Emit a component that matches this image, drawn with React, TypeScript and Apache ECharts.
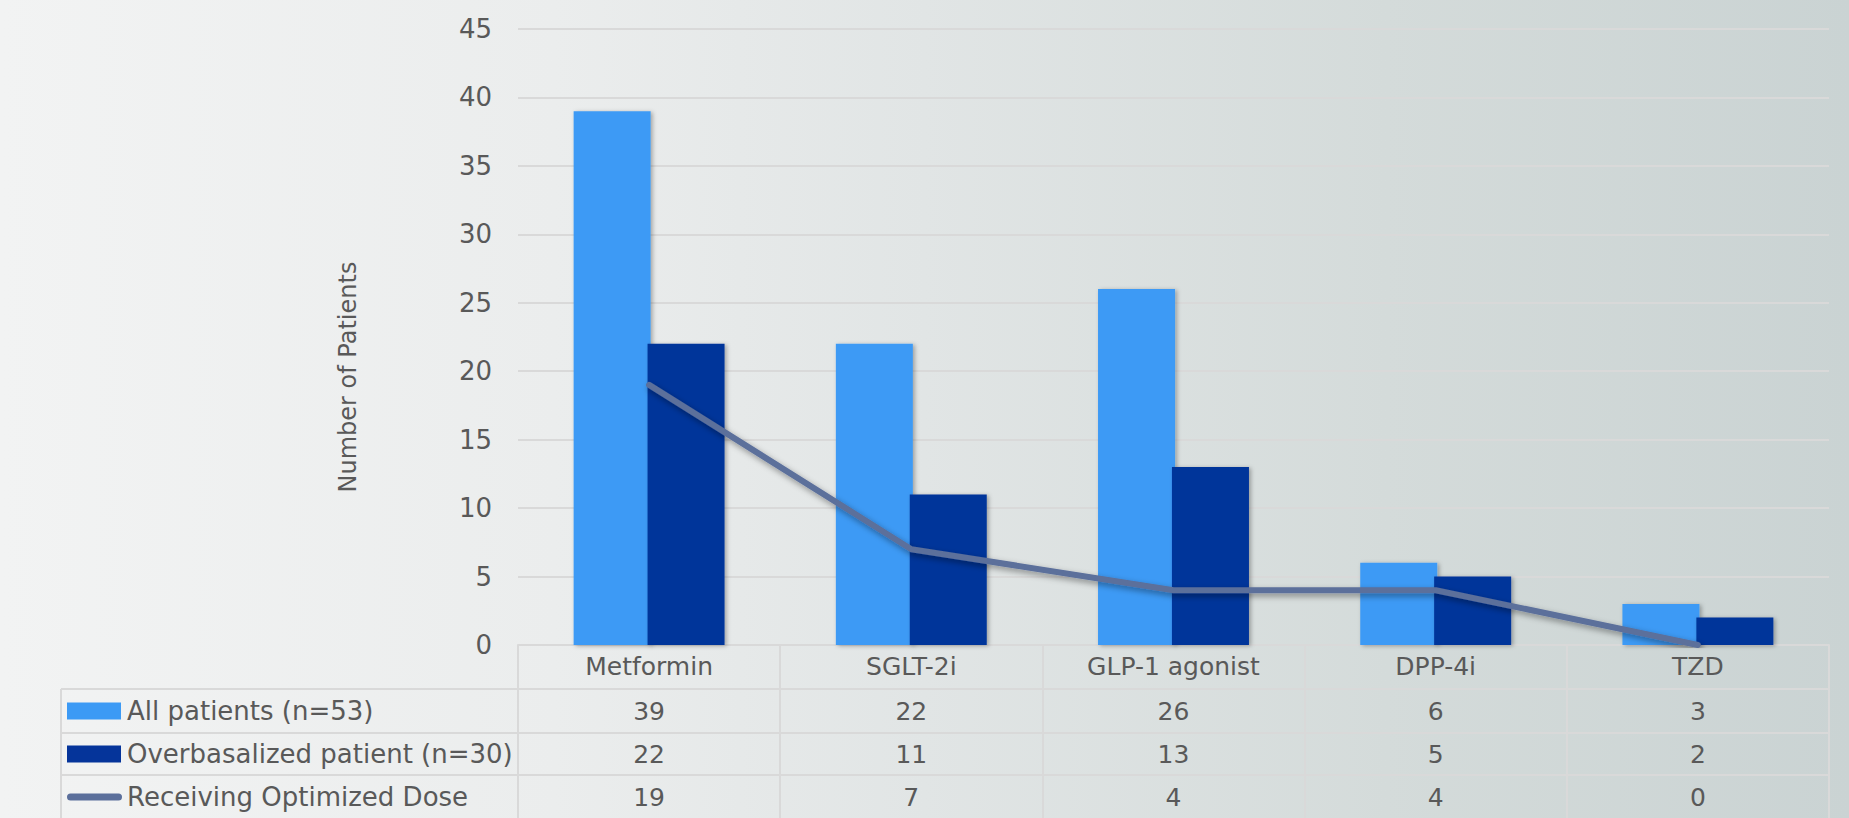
import React, { useEffect, useRef } from "react";
import * as echarts from "echarts";

const categories = ["Metformin", "SGLT-2i", "GLP-1 agonist", "DPP-4i", "TZD"];
const seriesNames = ["All patients (n=53)", "Overbasalized patient (n=30)", "Receiving Optimized Dose"];
const allPatients = [39, 22, 26, 6, 3];
const overbasalized = [22, 11, 13, 5, 2];
const optimizedDose = [19, 7, 4, 4, 0];
const yTicks = { min: 0, max: 45, interval: 5 };
const yAxisName = "Number of Patients";

const W = 1849;
const H = 818;
const FONT = "'DejaVu Sans', 'Open Sans', sans-serif";
const TEXT = "#595959";
const GRID_LINE = "#D9D9D9";
const LIGHT = "#3C9AF5";
const DARK = "#05349A";
const LINE = "#5B6F9B";

const GRID = { left: 518, right: 20, top: 29, bottom: 173 };
const ROW_CENTERS = [711, 754, 797];
const ROW_LINES = [689, 733, 775];
const TABLE_LEFT = 61;

export default function App() {
  const ref = useRef<HTMLDivElement>(null);
  useEffect(() => {
    if (!ref.current) return;
    const chart = echarts.init(ref.current, null, { renderer: "svg" });
    const rows = [allPatients, overbasalized, optimizedDose];
    const valueAxes = rows.map((arr, r) => ({
      type: "category" as const,
      gridIndex: 0,
      position: "bottom" as const,
      offset: ROW_CENTERS[r] - (H - GRID.bottom),
      data: categories,
      axisLine: { show: false },
      axisTick: { show: false },
      splitLine: { show: false },
      axisLabel: {
        margin: 0,
        verticalAlign: "middle" as const,
        fontSize: 25,
        fontFamily: FONT,
        color: TEXT,
        formatter: (_v: string, i: number) => String(arr[i]),
      },
    }));

    const graphics: any[] = [];
    ROW_LINES.forEach((y) => {
      graphics.push({
        type: "line",
        shape: { x1: TABLE_LEFT, y1: y, x2: W - GRID.right, y2: y },
        style: { stroke: GRID_LINE, lineWidth: 2 },
        silent: true,
      });
    });
    graphics.push({
      type: "line",
      shape: { x1: TABLE_LEFT, y1: ROW_LINES[0], x2: TABLE_LEFT, y2: H },
      style: { stroke: GRID_LINE, lineWidth: 2 },
      silent: true,
    });
    const iconColors = [LIGHT, DARK, LINE];
    seriesNames.forEach((name, i) => {
      const cy = ROW_CENTERS[i];
      if (i < 2) {
        graphics.push({
          type: "rect",
          shape: { x: 67, y: cy - 8.5, width: 54, height: 17 },
          style: { fill: iconColors[i] },
          silent: true,
        });
      } else {
        graphics.push({
          type: "rect",
          shape: { x: 67, y: cy - 3.5, width: 55, height: 7, r: 3.5 },
          style: { fill: iconColors[i] },
          silent: true,
        });
      }
      graphics.push({
        type: "text",
        x: 127,
        y: cy,
        style: {
          text: name,
          fontSize: 26,
          fontFamily: FONT,
          fill: TEXT,
          align: "left",
          verticalAlign: "middle",
        },
        silent: true,
      });
    });
    graphics.push({
      type: "text",
      x: 348,
      y: 377,
      rotation: Math.PI / 2,
      style: {
        text: yAxisName,
        fontSize: 24,
        fontFamily: FONT,
        fill: TEXT,
        align: "center",
        verticalAlign: "middle",
      },
      silent: true,
    });

    const shadow = {
      shadowColor: "rgba(0,0,0,0.3)",
      shadowBlur: 4,
      shadowOffsetX: 2,
      shadowOffsetY: 1,
    };

    chart.setOption({
      animation: false,
      backgroundColor: {
        type: "linear",
        x: 0,
        y: 0,
        x2: 1,
        y2: 0,
        colorStops: [
          { offset: 0, color: "#F2F3F3" },
          { offset: 0.3, color: "#EBEDED" },
          { offset: 0.5, color: "#E1E5E5" },
          { offset: 0.75, color: "#D4DBDA" },
          { offset: 1, color: "#CAD3D3" },
        ],
      },
      grid: { ...GRID, containLabel: false },
      xAxis: [
        {
          type: "category",
          data: categories,
          boundaryGap: true,
          axisLine: { show: true, lineStyle: { color: GRID_LINE, width: 2 } },
          axisTick: {
            show: true,
            length: GRID.bottom,
            alignWithLabel: false,
            lineStyle: { color: GRID_LINE, width: 2 },
          },
          axisLabel: {
            margin: 21,
            verticalAlign: "middle",
            fontSize: 25,
            fontFamily: FONT,
            color: TEXT,
          },
          splitLine: { show: false },
        },
        ...valueAxes,
      ],
      yAxis: {
        type: "value",
        min: yTicks.min,
        max: yTicks.max,
        interval: yTicks.interval,
        axisLine: { show: false },
        axisTick: { show: false },
        axisLabel: { fontSize: 26, fontFamily: FONT, color: TEXT, margin: 26 },
        splitLine: { show: true, lineStyle: { color: GRID_LINE, width: 2 } },
      },
      series: [
        {
          name: seriesNames[0],
          type: "bar",
          data: allPatients,
          barWidth: 77,
          barGap: "-4%",
          itemStyle: { color: LIGHT, ...shadow },
          z: 2,
        },
        {
          name: seriesNames[1],
          type: "bar",
          data: overbasalized,
          barWidth: 77,
          barGap: "-4%",
          itemStyle: { color: DARK, ...shadow },
          z: 3,
        },
        {
          name: seriesNames[2],
          type: "line",
          data: optimizedDose,
          symbol: "none",
          z: 5,
          lineStyle: {
            color: LINE,
            width: 6,
            cap: "round",
            join: "round",
            shadowColor: "rgba(0,0,0,0.4)",
            shadowBlur: 6,
            shadowOffsetX: 2,
            shadowOffsetY: 3,
          },
        },
      ],
      graphic: graphics,
    });
    return () => chart.dispose();
  }, []);
  return (
    <div
      ref={ref}
      style={{ position: "absolute", left: 0, top: 0, width: W, height: H }}
    />
  );
}
